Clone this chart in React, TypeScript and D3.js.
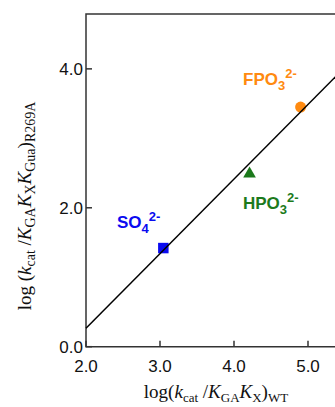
import * as React from 'react'
import { useEffect, useRef } from 'react'
import * as d3 from 'd3'

// data
const anions = ['SO4', 'HPO3', 'FPO3']
const xWT = [3.045, 4.21, 4.9]
const yR269A = [1.42, 2.49, 3.45]
const fitX = [2.0, 5.6]
const fitY = [0.265, 0.265 + 1.074 * 3.6]
const xTicks = [2, 3, 4, 5]
const yTicks = [0, 2, 4]

const colors: Record<string, string> = {
  SO4: '#0a0af0',
  HPO3: '#1c7a1c',
  FPO3: '#ff8a10',
}

export default function App() {
  const svgRef = useRef<SVGSVGElement>(null)
  const width = 335
  const height = 407

  useEffect(() => {
    if (!svgRef.current) return
    const svg = d3.select(svgRef.current)
    svg.selectAll('*').remove()

    const left = 86
    const top = 14
    const bottom = 346.7
    const x = d3.scaleLinear().domain([2, 5.5]).range([left, left + 3.5 * 74])
    const y = d3.scaleLinear().domain([0, 4.79]).range([bottom, top])

    const axisColor = '#333'

    // frame: left, top, bottom
    svg.append('path')
      .attr('d', `M${x(5.5)},${top}H${left}V${bottom}H${x(5.5)}`)
      .attr('fill', 'none')
      .attr('stroke', axisColor)
      .attr('stroke-width', 1.5)

    // ticks (inward)
    xTicks.forEach(t => {
      svg.append('line')
        .attr('x1', x(t)).attr('x2', x(t))
        .attr('y1', bottom).attr('y2', bottom - 6)
        .attr('stroke', axisColor).attr('stroke-width', 1.5)
      svg.append('text')
        .attr('x', x(t))
        .attr('y', bottom + 25)
        .attr('text-anchor', 'middle')
        .attr('font-family', 'Liberation Sans, Arial, sans-serif')
        .attr('font-size', '17px')
        .attr('fill', '#111')
        .text(d3.format('.1f')(t))
    })
    yTicks.forEach(t => {
      svg.append('line')
        .attr('x1', left).attr('x2', left + 6)
        .attr('y1', y(t)).attr('y2', y(t))
        .attr('stroke', axisColor).attr('stroke-width', 1.5)
      svg.append('text')
        .attr('x', left - 3)
        .attr('y', y(t) + 6)
        .attr('text-anchor', 'end')
        .attr('font-family', 'Liberation Sans, Arial, sans-serif')
        .attr('font-size', '17px')
        .attr('fill', '#111')
        .text(d3.format('.1f')(t))
    })

    // markers
    anions.forEach((a, i) => {
      const cx = x(xWT[i])
      const cy = y(yR269A[i])
      const shape = a === 'SO4' ? d3.symbolSquare : a === 'HPO3' ? d3.symbolTriangle : d3.symbolCircle
      const size = a === 'SO4' ? 110 : a === 'HPO3' ? 70 : 95
      svg.append('path')
        .attr('d', d3.symbol().type(shape).size(size)()!)
        .attr('transform', `translate(${cx},${cy})`)
        .attr('fill', colors[a])
    })

    // fit line
    const line = d3.line<number>().x((_, i) => x(fitX[i])).y(d => y(d))
    svg.append('path')
      .attr('d', line(fitY)!)
      .attr('fill', 'none')
      .attr('stroke', '#000')
      .attr('stroke-width', 1.5)

    // anion labels
    const labelPos: Record<string, [number, number]> = {
      SO4: [117, 228],
      HPO3: [243, 209],
      FPO3: [243, 85],
    }
    anions.forEach(a => {
      const [lx, ly] = labelPos[a]
      const t = svg.append('text')
        .attr('x', lx).attr('y', ly)
        .attr('font-family', 'Liberation Sans, Arial, sans-serif')
        .attr('font-weight', 'bold')
        .attr('font-size', '17px')
        .attr('fill', colors[a])
      t.append('tspan').text(a.slice(0, -1))
      t.append('tspan').attr('font-size', '13px').attr('dy', 5).text(a.slice(-1))
      t.append('tspan').attr('font-size', '13px').attr('dy', -12).text('2-')
    })

    // axis titles
    const serif = 'Liberation Serif, Times New Roman, serif'
    const xt = svg.append('text')
      .attr('x', 216).attr('y', 398)
      .attr('text-anchor', 'middle')
      .attr('font-family', serif)
      .attr('font-size', '19px')
      .attr('fill', '#111')
    xt.append('tspan').text('log(')
    xt.append('tspan').attr('font-style', 'italic').text('k')
    xt.append('tspan').attr('font-size', '13px').attr('dy', 4).text('cat')
    xt.append('tspan').attr('dy', -4).text(' /')
    xt.append('tspan').attr('font-style', 'italic').text('K')
    xt.append('tspan').attr('font-size', '13px').attr('dy', 4).text('GA')
    xt.append('tspan').attr('font-style', 'italic').attr('dy', -4).text('K')
    xt.append('tspan').attr('font-size', '13px').attr('dy', 4).text('X')
    xt.append('tspan').attr('dy', -4).text(')')
    xt.append('tspan').attr('font-size', '13px').attr('dy', 4).text('WT')

    const yt = svg.append('text')
      .attr('transform', 'translate(31,206) rotate(-90)')
      .attr('text-anchor', 'middle')
      .attr('font-family', serif)
      .attr('font-size', '19px')
      .attr('fill', '#111')
    yt.append('tspan').text('log (')
    yt.append('tspan').attr('font-style', 'italic').text('k')
    yt.append('tspan').attr('font-size', '14px').attr('dy', 4).text('cat')
    yt.append('tspan').attr('dy', -4).text(' /')
    yt.append('tspan').attr('font-style', 'italic').text('K')
    yt.append('tspan').attr('font-size', '14px').attr('dy', 4).text('GA')
    yt.append('tspan').attr('font-style', 'italic').attr('dy', -4).text('K')
    yt.append('tspan').attr('font-size', '14px').attr('dy', 4).text('X')
    yt.append('tspan').attr('font-style', 'italic').attr('dy', -4).text('K')
    yt.append('tspan').attr('font-size', '14px').attr('dy', 4).text('Gua')
    yt.append('tspan').attr('dy', -4).text(')')
    yt.append('tspan').attr('font-size', '14px').attr('dy', 4).text('R269A')
  }, [])

  return (
    <div style={{ position: 'fixed', left: 0, top: 0 }}>
      <svg ref={svgRef} width={width} height={height} style={{ display: 'block', background: '#fff' }} />
    </div>
  )
}
